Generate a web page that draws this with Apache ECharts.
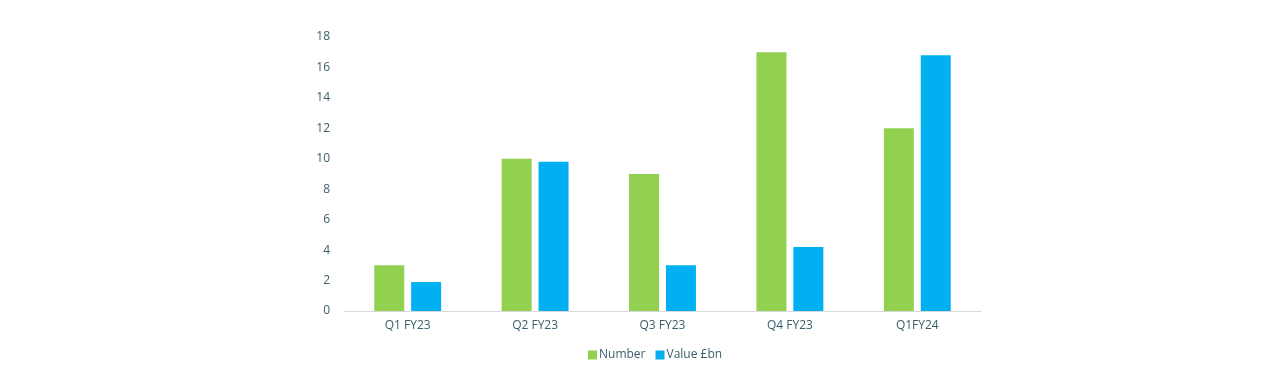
<!DOCTYPE html>
<html>
<head>
<meta charset="utf-8">
<script src="https://cdn.jsdelivr.net/npm/echarts@6/dist/echarts.min.js"></script>
<style>html,body{margin:0;padding:0;background:#fff;}#c{width:1280px;height:374px;}</style>
</head>
<body>
<div id="c"></div>
<script>
const categories = ['Q1 FY23', 'Q2 FY23', 'Q3 FY23', 'Q4 FY23', 'Q1FY24'];
const numberValues = [3, 10, 9, 17, 12];
const valueBn = [1.9, 9.8, 3, 4.2, 16.8];
const seriesNames = ['Number', 'Value £bn'];

const chart = echarts.init(document.getElementById('c'));
const txt = '#3a5e6a';
chart.setOption({
  animation: false,
  textStyle: { fontFamily: 'Open Sans' },
  grid: { left: 344, right: 299, top: 37, bottom: 63, containLabel: false },
  legend: {
    bottom: 8, left: 583,
    itemWidth: 9, itemHeight: 9, itemGap: 10,
    icon: 'rect',
    textStyle: { color: txt, fontSize: 12, fontFamily: 'Open Sans', padding: [0, 0, 0, -3] },
    data: seriesNames
  },
  xAxis: {
    type: 'category', data: categories,
    axisLine: { lineStyle: { color: '#d9d9d9', width: 1 } },
    axisTick: { show: false },
    axisLabel: { color: txt, fontSize: 12, margin: 9, fontFamily: 'Open Sans' }
  },
  yAxis: {
    type: 'value', min: 0, max: 18, interval: 2,
    axisLine: { show: false }, axisTick: { show: false },
    splitLine: { show: false },
    axisLabel: { color: txt, fontSize: 12, margin: 14, fontFamily: 'Open Sans', align: 'right', verticalAlign: 'middle', padding: [2, 0, 0, 0] }
  },
  series: [
    { name: seriesNames[0], type: 'bar', data: numberValues, barWidth: 30, barGap: '23%', itemStyle: { color: '#92d050' } },
    { name: seriesNames[1], type: 'bar', data: valueBn, barWidth: 30, itemStyle: { color: '#00b0f0' } }
  ]
});
</script>
</body>
</html>
